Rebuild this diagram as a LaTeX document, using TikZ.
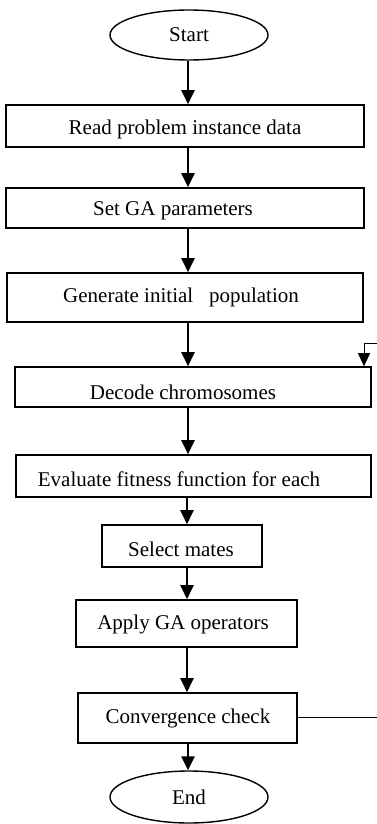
\documentclass[tikz,border=0pt]{standalone}
\usepackage{fontspec}
\setmainfont{Liberation Serif}
\usetikzlibrary{shapes.geometric,arrows.meta}
\begin{document}
\begin{tikzpicture}[x=1pt,y=-1pt,
  box/.style={draw,line width=1.6pt,rectangle,inner sep=0pt},
  oval/.style={draw,line width=1.4pt,ellipse,inner sep=0pt,font=\fontsize{21}{25}\selectfont},
  lbl/.style={inner sep=0pt,font=\fontsize{21}{25}\selectfont},
  arr/.style={line width=2.4pt,-{Triangle[length=14pt,width=13pt]}},
  thinarr/.style={line width=1pt,-{Triangle[length=13pt,width=12pt]}},
  thinline/.style={line width=1pt}]
\useasboundingbox (0,0) rectangle (377,824);
\node[oval,minimum width=158pt,minimum height=50pt] (start) at (189,35) {Start};
\node[box,minimum width=358pt,minimum height=42pt] (b1) at (185,126) {};
\node[box,minimum width=358pt,minimum height=40pt] (b2) at (185,208) {};
\node[box,minimum width=356pt,minimum height=49pt] (b3) at (185,297.5) {};
\node[box,minimum width=356pt,minimum height=40pt] (b4) at (193,387) {};
\node[box,minimum width=355pt,minimum height=42pt] (b5) at (193.5,476) {};
\node[box,minimum width=160pt,minimum height=42pt] (b6) at (182,546) {};
\node[box,minimum width=221pt,minimum height=47pt] (b7) at (186.5,623.5) {};
\node[box,minimum width=219pt,minimum height=50pt] (b8) at (187.5,718) {};
\node[oval,minimum width=158pt,minimum height=52pt] (end) at (189,797) {End};
\node[lbl] (t1) at (185,129) {Read problem instance data};
\node[lbl] (t2) at (173,211) {Set GA parameters};
\node[lbl] (t3) at (181,297) {Generate initial\ \ \ population};
\node[lbl] (t4) at (183,392) {Decode chromosomes};
\node[lbl] (t5) at (179,479) {Evaluate fitness function for each};
\node[lbl] (t6) at (181,549) {Select mates};
\node[lbl] (t7) at (183,624) {Apply GA operators};
\node[lbl] (t8) at (188,718) {Convergence check};
\coordinate (ax) at (188,0);
\coordinate (bx) at (187,0);
\draw[arr] (start.south -| ax) -- (ax |- b1.north);
\draw[arr] (b1.south -| ax) -- (ax |- b2.north);
\draw[arr] (b2.south -| ax) -- (ax |- b3.north);
\draw[arr] (b3.south -| ax) -- (ax |- b4.north);
\draw[arr] (b4.south -| ax) -- (ax |- b5.north);
\draw[arr] (b5.south -| bx) -- (bx |- b6.north);
\draw[arr] (b6.south -| bx) -- (bx |- b7.north);
\draw[arr] (b7.south -| bx) -- (bx |- b8.north);
\draw[arr] (b8.south -| ax) -- (ax |- end.north);
\coordinate (r1) at (377,717);
\coordinate (r2) at (377,343);
\coordinate (lp) at (364,343);
\draw[thinline] (b8.east |- r1) -- (r1);
\draw[thinarr] (r2) -- (lp) -- (lp |- b4.north);
\end{tikzpicture}
\end{document}
